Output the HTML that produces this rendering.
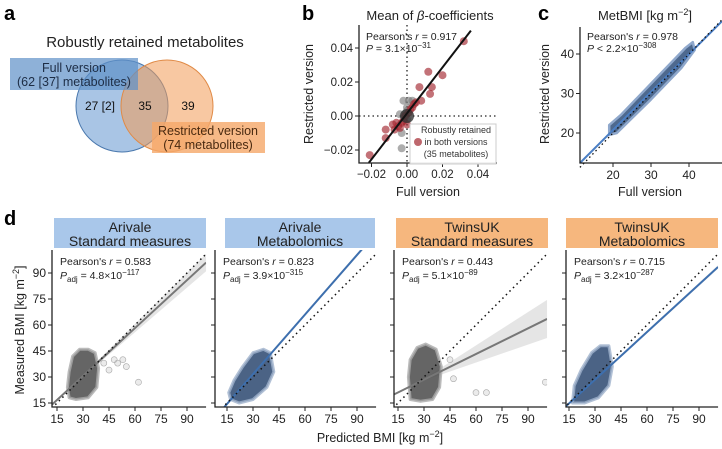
<!DOCTYPE html>
<html><head><meta charset="utf-8"><style>
body{margin:0;background:#fff;}
svg{display:block;font-family:"Liberation Sans",sans-serif;}
</style></head><body>
<svg id="fig" width="722" height="449" viewBox="0 0 722 449" xmlns="http://www.w3.org/2000/svg">
<g>
<text x="4" y="20" font-size="20" font-weight="bold">a</text>
<text x="145" y="47" font-size="15" text-anchor="middle" fill="#222">Robustly retained metabolites</text>
<circle cx="122" cy="106" r="46" fill="#6f9fd3" fill-opacity="0.6" stroke="#4a78ad" stroke-width="1"/>
<circle cx="167" cy="106" r="46" fill="#f29a55" fill-opacity="0.55" stroke="#e08a46" stroke-width="1"/>
<rect x="10" y="58" width="128" height="32" fill="#5e90c8" fill-opacity="0.7"/>
<text x="74" y="72" font-size="12.5" text-anchor="middle" fill="#1d2d45">Full version</text>
<text x="74" y="86" font-size="12.5" text-anchor="middle" fill="#1d2d45">(62 [37] metabolites)</text>
<rect x="152" y="122" width="113" height="31" fill="#f5a869" fill-opacity="0.8"/>
<text x="208" y="135" font-size="12.5" text-anchor="middle" fill="#4a2a10">Restricted version</text>
<text x="208" y="149" font-size="12.5" text-anchor="middle" fill="#4a2a10">(74 metabolites)</text>
<text x="100" y="110" font-size="12" text-anchor="middle" fill="#111">27 [2]</text>
<text x="145" y="110" font-size="12" text-anchor="middle" fill="#111">35</text>
<text x="188" y="110" font-size="12" text-anchor="middle" fill="#111">39</text>
</g>
<g id="pb"></g>
<g id="pc"></g>
<g id="pd"></g>
</svg>
<script>
// ---- Panel b data ----
const bRedX=[-0.021,0.032,0.012,0.020,0.014,0.007,0.013,0.008,0.005,0.003,-0.008,-0.007,-0.012,-0.012,-0.005,-0.003,-0.002,-0.001,0.001,0.000,-0.004,0.002,0.004,-0.006];
const bRedY=[-0.023,0.044,0.026,0.024,0.017,0.017,0.013,0.009,0.008,0.005,-0.005,-0.008,-0.008,-0.013,-0.006,-0.004,-0.003,0.000,0.002,-0.005,-0.007,0.004,0.007,-0.004];
const bGrayX=[-0.003,0.001,-0.002,-0.003,0.003,-0.004,0.000,0.000,0.000,-0.001];
const bGrayY=[-0.019,0.009,0.009,-0.010,0.009,0.001,0.003,0.005,-0.002,0.001];
const bTicks=[-0.02,0.00,0.02,0.04];
const bFit=[-0.0215,-0.0275,0.036,0.0502];
// ---- Panel c data ----
const cTicks=[20,30,40];
const cBandX=[19,21,30,38,41.5,41,39,30,22,19];
const cBandY=[19.5,20,28.5,36.5,41,43,41.5,32.5,24.5,22];
const cFit=[11.3,12.4,48.7,48.3];
// ---- Panel d data ----
const dTitles=[["Arivale","Standard measures"],["Arivale","Metabolomics"],["TwinsUK","Standard measures"],["TwinsUK","Metabolomics"]];
const dR=["0.583","0.823","0.443","0.715"];
const dPm=["4.8","3.9","5.1","3.2"];
const dPe=["−117","−315","−89","−287"];
const dTicks=[15,30,45,60,75,90];
const dFitY0=[14,11,19.6,12];
const dFitY1=[96,113,63.5,93.5];
const dCiHalf=[5,1,11,1];
const cloud0X=[22,26,33,38,39,37,33,28,24,22,21];
const cloud0Y=[18,17,18,24,35,44,46,46,42,33,24];
const cloud1X=[17,22,30,38,42,40,36,30,24,19,16];
const cloud1Y=[17,15,17,24,33,44,46,44,36,28,21];
const cloud2X=[22,28,35,39,40,37,31,26,22,21];
const cloud2Y=[17,16,17,24,36,46,49,47,40,30];
const cloud3X=[17,24,32,38,40,38,33,28,22,18];
const cloud3Y=[15,15,18,25,36,48,48,44,34,25];
const out0X=[45,48,50,53,55,62,42];
const out0Y=[34,40,38,40,36,27,38];
const out2X=[60,66,100,47,45];
const out2Y=[21,21,27,29,40];

const NS="http://www.w3.org/2000/svg";
function mk(parent,tag,attrs,txt){const e=document.createElementNS(NS,tag);for(const k in attrs)e.setAttribute(k,attrs[k]);if(txt!==undefined)e.textContent=txt;parent.appendChild(e);return e;}

(function(){
const g=document.getElementById('pb');
const L=359,R=497,T=25,B=163;
const sx=v=>407+v/0.02*35.5, sy=v=>116-v/0.02*34;
let t=mk(g,'text',{x:302,y:20,'font-size':20,'font-weight':'bold'},'b');

t=mk(g,'text',{x:430,y:20,'font-size':13,'text-anchor':'middle',fill:'#222'});
t.innerHTML='Mean of <tspan font-style="italic">β</tspan>-coefficients';

let d=mk(g,'line',{x1:sx(0),y1:T,x2:sx(0),y2:B,stroke:'#222','stroke-dasharray':'1.5,3','stroke-width':1.3});

d=mk(g,'line',{x1:L,y1:sy(0),x2:R,y2:sy(0),stroke:'#222','stroke-dasharray':'1.5,3','stroke-width':1.3});

for(let i=0;i<bGrayX.length;i++){const c=mk(g,'circle',{cx:sx(bGrayX[i]),cy:sy(bGrayY[i]),r:4,fill:'#777','fill-opacity':0.6});
}
for(let i=0;i<bRedX.length;i++){const c=mk(g,'circle',{cx:sx(bRedX[i]),cy:sy(bRedY[i]),r:4,fill:'#a3272f','fill-opacity':0.65});
}
const cl=mk(g,'circle',{cx:sx(0),cy:sy(0),r:7,fill:'#333','fill-opacity':0.8});

const fl=mk(g,'line',{x1:sx(bFit[0]),y1:sy(bFit[1]),x2:sx(bFit[2]),y2:sy(bFit[3]),stroke:'#111','stroke-width':2});

const ax=mk(g,'path',{d:`M${L},${T}V${B}H${R}`,fill:'none',stroke:'#222','stroke-width':1.3});

bTicks.forEach(v=>{
 let tk=mk(g,'line',{x1:sx(v),y1:B,x2:sx(v),y2:B+4,stroke:'#222'});
 let tl=mk(g,'text',{x:sx(v),y:B+15,'font-size':11.5,'text-anchor':'middle',fill:'#222'},(v<0?'−':'')+Math.abs(v).toFixed(2));
 tk=mk(g,'line',{x1:L-4,y1:sy(v),x2:L,y2:sy(v),stroke:'#222'});
 tl=mk(g,'text',{x:L-6,y:sy(v)+4,'font-size':11.5,'text-anchor':'end',fill:'#222'},(v<0?'−':'')+Math.abs(v).toFixed(2));
});
t=mk(g,'text',{x:428,y:196,'font-size':12.5,'text-anchor':'middle',fill:'#222'},'Full version');
t=mk(g,'text',{x:313,y:94,'font-size':12.5,'text-anchor':'middle',fill:'#222',transform:'rotate(-90 313 94)'},'Restricted version');
t=mk(g,'text',{x:366,y:40,'font-size':10.5,fill:'#222'});t.innerHTML="Pearson's <tspan font-style='italic'>r</tspan> = 0.917";
t=mk(g,'text',{x:366,y:52,'font-size':10.5,fill:'#222'});t.innerHTML="<tspan font-style='italic'>P</tspan> = 3.1×10<tspan dy='-4' font-size='8'>−31</tspan>";
const lg=mk(g,'rect',{x:410,y:124,width:86,height:40,fill:'#fff','fill-opacity':0.9,stroke:'#ccc'});
const lm=mk(g,'circle',{cx:418,cy:142,r:4,fill:'#a3272f','fill-opacity':0.7});
[["Robustly retained",133],["in both versions",145],["(35 metabolites)",157]].forEach(([s,y])=>{const e=mk(g,'text',{x:456,y:y,'font-size':9,'text-anchor':'middle',fill:'#333'},s);});
})();

(function(){
const g=document.getElementById('pc');
const L=580,R=722,T=27,B=163;
const sx=v=>613+(v-20)*3.8, sy=v=>133-(v-20)*3.95;
let t=mk(g,'text',{x:538,y:20,'font-size':20,'font-weight':'bold'},'c');
t=mk(g,'text',{x:645,y:20,'font-size':13,'text-anchor':'middle',fill:'#222'});t.innerHTML="MetBMI [kg m<tspan dy='-5' font-size='9'>−2</tspan><tspan dy='5'>]</tspan>";
let pts=cBandX.map((x,i)=>sx(x)+','+sy(cBandY[i])).join(' ');
let p=mk(g,'polygon',{points:pts,fill:'#2f4f7a','fill-opacity':0.85,stroke:'#8fa8cc','stroke-width':2.5,'stroke-linejoin':'round'});
let l=mk(g,'line',{x1:sx(cFit[0]),y1:sy(cFit[1]),x2:sx(cFit[2]),y2:sy(cFit[3]),stroke:'#4a7ec4','stroke-width':2});
l=mk(g,'line',{x1:sx(11.3),y1:sy(11.3),x2:sx(48.7),y2:sy(48.7),stroke:'#111','stroke-width':1.3,'stroke-dasharray':'1.5,3'});
const ax=mk(g,'path',{d:`M${L},${T}V${B}H${R}`,fill:'none',stroke:'#222','stroke-width':1.3});
cTicks.forEach(v=>{
 let tk=mk(g,'line',{x1:sx(v),y1:B,x2:sx(v),y2:B+4,stroke:'#222'});
 let tl=mk(g,'text',{x:sx(v),y:B+16,'font-size':12,'text-anchor':'middle',fill:'#222'},String(v));
 tk=mk(g,'line',{x1:L-4,y1:sy(v),x2:L,y2:sy(v),stroke:'#222'});
 tl=mk(g,'text',{x:L-6,y:sy(v)+4,'font-size':12,'text-anchor':'end',fill:'#222'},String(v));
});
t=mk(g,'text',{x:650,y:196,'font-size':12.5,'text-anchor':'middle',fill:'#222'},'Full version');
t=mk(g,'text',{x:549,y:94,'font-size':12.5,'text-anchor':'middle',fill:'#222',transform:'rotate(-90 549 94)'},'Restricted version');
t=mk(g,'text',{x:587,y:40,'font-size':10.5,fill:'#222'});t.innerHTML="Pearson's <tspan font-style='italic'>r</tspan> = 0.978";
t=mk(g,'text',{x:587,y:52,'font-size':10.5,fill:'#222'});t.innerHTML="<tspan font-style='italic'>P</tspan> &lt; 2.2×10<tspan dy='-4' font-size='8'>−308</tspan>";
})();

(function(){
const g=document.getElementById('pd');
let t=mk(g,'text',{x:4,y:225,'font-size':20,'font-weight':'bold'},'d');
const spines=[52,215,394,566], x15=[57,227,398,569], hdrL=[54,225,396,566], hdrR=[206,375,548,718];
const clouds=[[cloud0X,cloud0Y],[cloud1X,cloud1Y],[cloud2X,cloud2Y],[cloud3X,cloud3Y]];
const outs=[[out0X,out0Y],null,[out2X,out2Y],null];
const B=407,T=250,k=130/75;
const sy=v=>403-(v-15)*k;
for(let i=0;i<4;i++){
 const sx=v=>x15[i]+(v-15)*k;
 const R=Math.min(sx(101),722);
 const isBlue=(i%2===1);
 const sub=mk(g,'g',{});
 const cp=mk(sub,'clipPath',{id:'clip'+i});mk(cp,'rect',{x:spines[i],y:T,width:R-spines[i],height:B-T});
 const plot=mk(sub,'g',{'clip-path':'url(#clip'+i+')'});
 const hb=mk(sub,'rect',{x:hdrL[i],y:218,width:hdrR[i]-hdrL[i],height:30,fill:i<2?'#a9c7ea':'#f6b77e'});
 const hc=(hdrL[i]+hdrR[i])/2;
 let h=mk(sub,'text',{x:hc,y:232,'font-size':14,'text-anchor':'middle',fill:'#222'},dTitles[i][0]);
 h=mk(sub,'text',{x:hc,y:246,'font-size':14,'text-anchor':'middle',fill:'#222'},dTitles[i][1]);
 const x0=12,x1=101,y0=dFitY0[i],y1=dFitY1[i],ci=dCiHalf[i];
 const ym=y0+(y1-y0)*(30-x0)/(x1-x0);
 const bp=[[30,ym+0.5],[x1,y1+ci],[x1,y1-ci],[30,ym-0.5]].map(q=>sx(q[0])+','+sy(q[1])).join(' ');
 const band=mk(plot,'polygon',{points:bp,fill:'#ccc','fill-opacity':0.5});
 const cx=clouds[i][0],cy=clouds[i][1];
 const cpts=cx.map((x,j)=>sx(x)+','+sy(cy[j])).join(' ');
 const cl=mk(plot,'polygon',{points:cpts,fill:isBlue?'#2b4870':'#4a4a4a','fill-opacity':0.85,stroke:isBlue?'#9fb2cc':'#aaa','stroke-width':3,'stroke-opacity':0.8,'stroke-linejoin':'round'});
 if(outs[i]){outs[i][0].forEach((x,j)=>{const c=mk(plot,'circle',{cx:sx(x),cy:sy(outs[i][1][j]),r:3,fill:'#ccc','fill-opacity':0.4,stroke:'#aaa','stroke-width':0.6});});}
 const fl=mk(plot,'line',{x1:sx(x0),y1:sy(y0),x2:sx(x1),y2:sy(y1),stroke:isBlue?'#3d6fae':'#777','stroke-width':2});
 const id=mk(plot,'line',{x1:sx(12),y1:sy(12),x2:sx(104),y2:sy(104),stroke:'#111','stroke-width':1.5,'stroke-dasharray':'1.5,3.5'});
 const ax=mk(sub,'path',{d:`M${spines[i]},${T}V${B}H${R}`,fill:'none',stroke:'#222','stroke-width':1.3});
 dTicks.forEach(v=>{
  let tk=mk(sub,'line',{x1:sx(v),y1:B,x2:sx(v),y2:B+4,stroke:'#222'});
  let tl=mk(sub,'text',{x:sx(v),y:B+16,'font-size':12,'text-anchor':'middle',fill:'#222'},String(v));
  tk=mk(sub,'line',{x1:spines[i]-4,y1:sy(v),x2:spines[i],y2:sy(v),stroke:'#222'});
  if(i===0){tl=mk(sub,'text',{x:spines[i]-6,y:sy(v)+4,'font-size':12,'text-anchor':'end',fill:'#222'},String(v));}
 });
 let pr=mk(sub,'text',{x:spines[i]+8,y:265,'font-size':10.5,fill:'#222'});pr.innerHTML="Pearson's <tspan font-style='italic'>r</tspan> = "+dR[i];
 pr=mk(sub,'text',{x:spines[i]+8,y:279,'font-size':10.5,fill:'#222'});pr.innerHTML="<tspan font-style='italic'>P</tspan><tspan dy='3' font-size='8'>adj</tspan><tspan dy='-3'> = "+dPm[i]+"×10</tspan><tspan dy='-4' font-size='8'>"+dPe[i]+"</tspan>";
}
t=mk(g,'text',{x:380,y:442,'font-size':12.5,'text-anchor':'middle',fill:'#222'});t.innerHTML="Predicted BMI [kg m<tspan dy='-5' font-size='9'>−2</tspan><tspan dy='5'>]</tspan>";
t=mk(g,'text',{x:24,y:330,'font-size':12.5,'text-anchor':'middle',fill:'#222',transform:'rotate(-90 24 330)'});t.innerHTML="Measured BMI [kg m<tspan dy='-5' font-size='9'>−2</tspan><tspan dy='5'>]</tspan>";
})();
</script>
</body></html>
